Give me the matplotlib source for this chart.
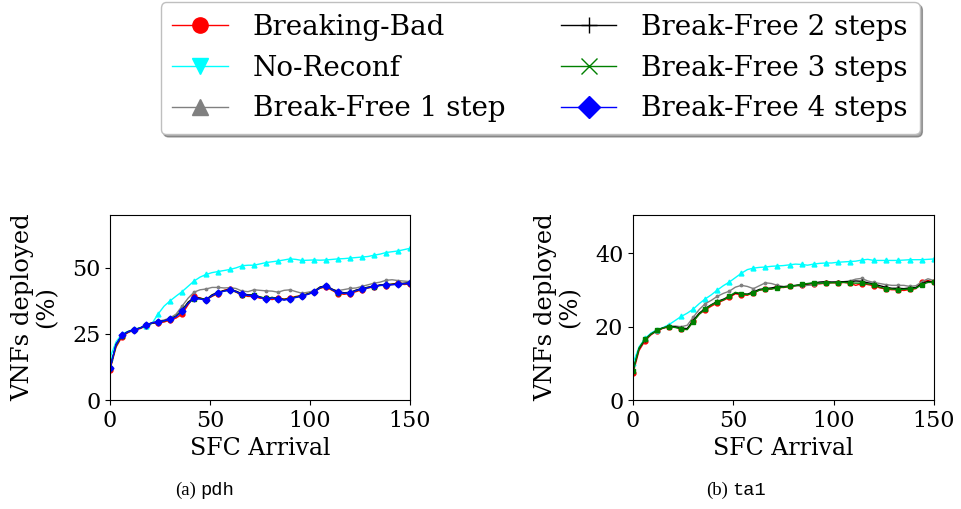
import numpy as np
import matplotlib.pyplot as plt
from matplotlib.lines import Line2D

# SFC arrival index (sampled every 3 arrivals)
arrivals = np.arange(0, 151, 3)

# ---- pdh topology: VNFs deployed (%) ----
pdh_bb = [11.5, 20, 24, 25.5, 26.5, 27, 28, 29, 29.2, 29.5, 30.3, 31, 32.5, 36, 39.2, 38.6, 38,
          39.2, 40.3, 41.5, 42, 40.8, 39.7, 39.2, 39.2, 38.5, 38.6, 38, 38.5, 38.2, 38.6, 39.2,
          39.5, 40.2, 41, 42.3, 42.8, 41.5, 40.3, 40, 40.3, 41, 41.8, 42.4, 42.8, 43.5, 43.2,
          43.8, 44.3, 43.7, 43.9]
pdh_noreconf = [16, 22, 25, 26, 26.8, 27.3, 28, 29, 32.5, 35.5, 37.5, 39.3, 41, 43, 45, 46.5, 47.5,
                48.2, 48.6, 49, 49.4, 50, 50.8, 51, 51, 51.5, 52, 52.3, 52.6, 53, 53.4, 53.2,
                52.8, 52.9, 53, 52.9, 53, 53.2, 53.4, 53.5, 53.7, 53.9, 54.1, 54.3, 54.8, 55.2,
                55.8, 56.1, 56.4, 56.9, 57.4]
pdh_bf1 = [12, 21, 24.5, 25.8, 26.6, 27.3, 28.4, 29.3, 29.8, 30.3, 31, 32.5, 35.5, 38.5, 40.8,
           41.7, 42, 42.6, 42.6, 42.4, 42.5, 42.2, 41.2, 41, 41.7, 41.5, 41.3, 41.2, 40.8, 41.5,
           41.7, 41, 40.4, 40.8, 41.3, 42.8, 43, 41.8, 41.4, 41.8, 42.2, 42.4, 43, 43.6, 44.2,
           44.6, 45.3, 45.5, 45.2, 45, 44.8]
pdh_bf2 = [12, 21, 24.5, 25.9, 26.6, 27.2, 28.3, 29.1, 29.5, 30, 30.6, 31.8, 34, 37, 38.8, 38.5,
           38, 39.8, 40.8, 41.4, 41.8, 41.2, 40.2, 39.8, 39.8, 39, 38.4, 38.8, 38.5, 38, 38.3,
           39, 39.5, 40.2, 41, 42.7, 43.3, 42, 40.9, 40.6, 40.7, 41.6, 42.2, 42.7, 43.1, 43.5,
           43.8, 43.8, 44, 44.2, 44.4]
pdh_bf3 = [12, 20.5, 24.3, 25.7, 26.5, 27.3, 28.2, 29.2, 29.5, 29.9, 30.5, 31.6, 33.8, 36.6,
           38.3, 38.4, 37.9, 39.4, 40.5, 41.2, 41.6, 40.9, 39.9, 39.5, 39.6, 38.9, 38.5, 38.8,
           38.4, 38, 38.4, 39, 39.4, 40.1, 40.9, 42.4, 43, 41.7, 40.6, 40.3, 40.6, 41.3, 41.9,
           42.5, 42.9, 43.3, 43.5, 43.7, 43.9, 44, 44.1]
pdh_bf4 = [12, 21, 24.5, 25.8, 26.5, 27.2, 28.3, 29.2, 29.6, 30, 30.5, 31.5, 33.5, 36.5, 38.5,
           38.2, 37.8, 39.5, 40.6, 41.2, 41.7, 41, 40, 39.6, 39.5, 38.8, 38.2, 38.6, 38.3, 37.8,
           38.2, 38.8, 39.3, 40, 40.8, 42.5, 43.2, 41.8, 40.7, 40.4, 40.5, 41.4, 42, 42.5, 43,
           43.4, 43.6, 43.6, 43.8, 44, 44.2]

# ---- ta1 topology: VNFs deployed (%) ----
ta1_bb = [7.3, 13.5, 16.2, 17.8, 18.9, 19.6, 20, 19.9, 19.5, 19.3, 21.5, 23.5, 24.6, 25.6,
          26.5, 27.2, 28, 29, 28.7, 28.6, 29.3, 30, 30.2, 30.3, 30.8, 30.7, 31, 31.2, 31.4,
          31.6, 31.8, 31.7, 31.9, 32, 32, 32.1, 31.9, 31.3, 31.8, 31.5, 31.2, 30.6, 30.3, 30.1,
          30.1, 29.9, 30.2, 30.4, 32.3, 32.6, 32.2]
ta1_noreconf = [10, 14.5, 16.8, 18.3, 19.2, 19.8, 20.6, 21.7, 22.8, 23.7, 24.8, 26.3, 27.6,
                28.7, 30, 31.2, 32.2, 33.4, 34.6, 35.6, 36, 36.2, 36.3, 36.5, 36.6, 36.7, 36.9,
                37.1, 37, 36.8, 37.1, 37.3, 37.4, 37.4, 37.6, 37.7, 37.8, 37.9, 38.2, 38.4,
                38.1, 38.1, 38.1, 38.1, 38.1, 38.2, 38.3, 38.3, 38.3, 38.4, 38.5]
ta1_bf1 = [8, 14, 16.5, 18, 19, 19.7, 20.1, 20.2, 20, 20.4, 22.6, 24.7, 26.3, 27.2, 28.3,
           29.1, 29.7, 30.8, 31.3, 31, 30.4, 31.2, 32, 31.8, 31.3, 31, 31.1, 31.2, 31.1, 31.3,
           31.4, 31.8, 32, 32.1, 32.3, 32.3, 32.5, 33, 33.2, 32.5, 32.1, 31.8, 31.5, 31.3,
           31.3, 31.3, 31, 31.2, 32.3, 33.1, 32.6]
ta1_bf2 = [8, 14, 16.5, 18, 19, 19.7, 20.1, 20, 19.6, 19.5, 21.7, 23.7, 25, 26, 26.9, 27.5,
           28.3, 29.2, 29, 28.9, 29.5, 30.2, 30.4, 30.6, 30.9, 30.9, 31.1, 31.3, 31.5, 31.7,
           31.9, 32.2, 32.3, 32.2, 32.2, 32.3, 32.3, 32.5, 32.4, 32, 31.7, 31.2, 30.8, 30.5,
           30.5, 30.4, 30.6, 30.7, 31.8, 32.4, 32.1]
ta1_bf3 = [8, 14.2, 16.6, 18, 19, 19.7, 20, 19.8, 19.4, 19.2, 21.4, 23.4, 24.8, 25.9, 26.8,
           27.3, 28.3, 29.4, 29, 28.8, 29.2, 30, 30.3, 30.3, 30.6, 30.8, 31, 31.2, 31.6, 31.8,
           32, 31.9, 31.9, 32, 32, 32.1, 32, 31.9, 31.9, 31.7, 31.5, 30.8, 30.4, 30.3, 30.1,
           30.2, 30.3, 30.5, 31.5, 32.1, 32.1]

series = [
    ("Breaking-Bad", "red", "o", "o"),
    ("No-Reconf", "cyan", "^", "v"),
    ("Break-Free 1 step", "grey", ".", "^"),
    ("Break-Free 2 steps", "black", "+", "+"),
    ("Break-Free 3 steps", "green", "s", "x"),
    ("Break-Free 4 steps", "blue", "D", "D"),
]

pdh_data = [pdh_bb, pdh_noreconf, pdh_bf1, pdh_bf2, pdh_bf3, pdh_bf4]
ta1_data = [ta1_bb, ta1_noreconf, ta1_bf1, ta1_bf2, ta1_bf3, None]

plt.rcParams['font.family'] = 'DejaVu Serif'
plt.rcParams['font.size'] = 16

fig = plt.figure(figsize=(9.61, 5.09), dpi=100)
ax1 = fig.add_axes([0.1145, 0.2141, 0.3122, 0.3635])
ax2 = fig.add_axes([0.6587, 0.2141, 0.3132, 0.3635])

for ax, data, ylim, yticks in [(ax1, pdh_data, 70, [0, 25, 50]),
                               (ax2, ta1_data, 50.5, [0, 20, 40])]:
    for (name, color, mk, _), vals in zip(series, data):
        if vals is None:
            continue
        ax.plot(arrivals, vals, color=color, marker=mk, markersize=3.5,
                linewidth=1, markevery=2)
    ax.set_xlim(0, 150)
    ax.set_ylim(0, ylim)
    ax.set_xticks([0, 50, 100, 150])
    ax.set_yticks(yticks)
    ax.set_xlabel('SFC Arrival', fontsize=17, labelpad=4)
    ax.set_ylabel('VNFs deployed\n(%)', fontsize=17.5, labelpad=10, linespacing=1.05)
    ax.tick_params(labelsize=16)

# legend with larger proxy markers
handles = [Line2D([], [], color=c, marker=lm, markersize=11, linewidth=1)
           for name, c, mk, lm in series]
labels = [s[0] for s in series]
fig.legend(handles, labels, loc='upper center', bbox_to_anchor=(0.562, 0.996), ncol=2,
           fontsize=20, shadow=True, fancybox=True, handlelength=2.0, handletextpad=0.9,
           columnspacing=2.0, labelspacing=0.5, borderpad=0.42, borderaxespad=0.0,
           edgecolor='0.75')

# subfigure captions
for xc, lab, code in [(0.208, '(a)', 'pdh'), (0.762, '(b)', 'ta1')]:
    fig.text(xc - 0.004, 0.037, lab, ha='right', va='center', family='Liberation Serif', fontsize=13.5)
    fig.text(xc, 0.037, code, ha='left', va='center', family='Liberation Mono', fontsize=13.5)

fig.savefig('out.png', dpi=100)
